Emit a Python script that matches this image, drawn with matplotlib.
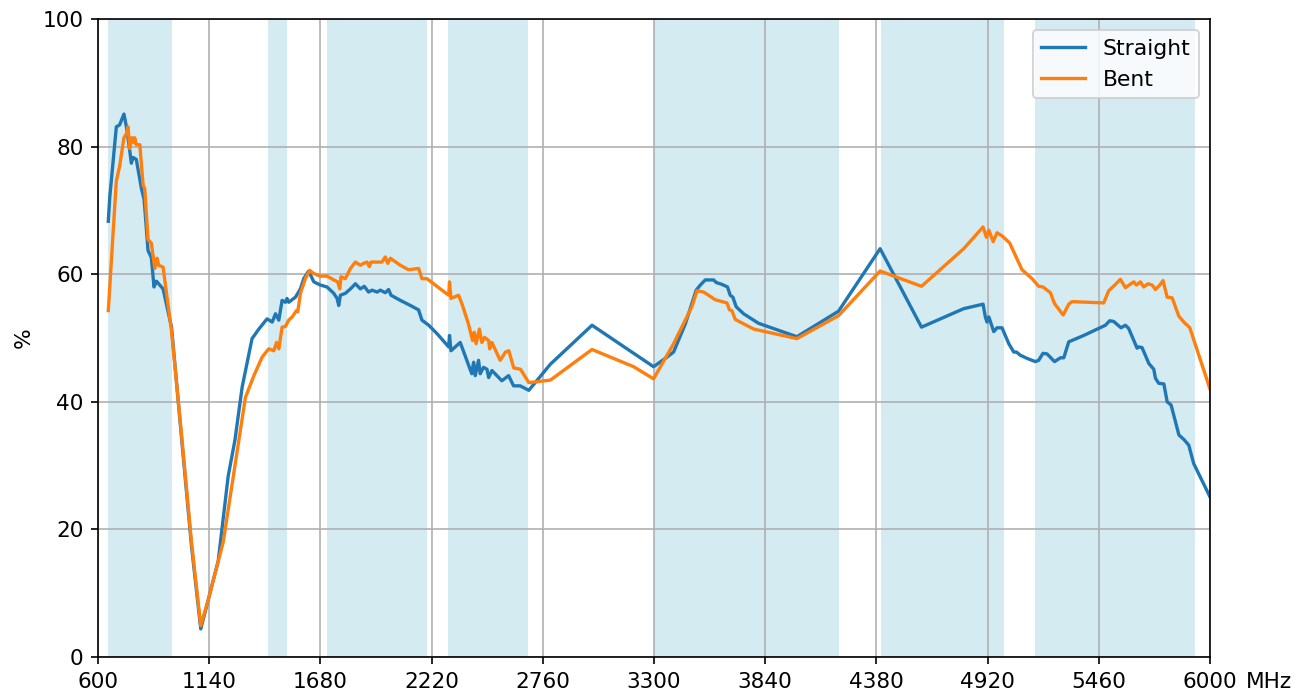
import matplotlib
matplotlib.use("Agg")
import matplotlib.pyplot as plt

# ---- data ----
bands = [(650, 960), (1427, 1518), (1710, 2200), (2300, 2690),
         (3300, 4200), (4400, 5000), (5150, 5925)]

straight_x = [650, 657, 689, 705, 726, 738, 754, 762, 770, 786, 811, 824, 843, 859, 872, 884, 916,
              957, 1005, 1054, 1099, 1135, 1184, 1232, 1265, 1300, 1348, 1381, 1421, 1446, 1462,
              1478, 1494, 1510, 1518, 1526, 1559, 1583, 1599, 1623, 1648, 1680, 1712, 1745, 1761,
              1769, 1777, 1801, 1826, 1850, 1874, 1893, 1914, 1931, 1955, 1971, 1995, 2011, 2023,
              2068, 2117, 2157, 2173, 2206, 2246, 2303, 2307, 2314, 2359, 2391, 2415, 2424, 2432,
              2448, 2456, 2472, 2489, 2497, 2513, 2561, 2594, 2618, 2650, 2692, 2797, 2999, 3298,
              3363, 3395, 3452, 3505, 3525, 3549, 3590, 3602, 3630, 3657, 3670, 3683, 3699, 3735,
              3808, 3994, 4196, 4398, 4599, 4804, 4898, 4909, 4917, 4926, 4950, 4966, 4990, 5023,
              5047, 5060, 5079, 5112, 5152, 5168, 5189, 5209, 5245, 5274, 5290, 5314, 5387, 5492,
              5513, 5532, 5557, 5568, 5589, 5605, 5646, 5654, 5670, 5703, 5727, 5735, 5751, 5776,
              5792, 5811, 5849, 5873, 5897, 5921, 6000]
straight_y = [68.3, 72, 83.1, 83.4, 85.1, 83.1, 79.4, 77.4, 78.3, 78, 73.4, 71.7, 63.7, 62.6, 58, 58.9,
              57.7, 51.7, 34.6, 17.4, 4.4, 8.9, 15.1, 28.3, 34, 42.3, 49.9, 51.4, 53, 52.5, 53.8,
              52.8, 55.9, 55.6, 56.2, 55.6, 56.4, 57.7, 59.3, 60.5, 58.8, 58.3, 58, 57, 56.2,
              55.1, 56.7, 57, 57.7, 58.5, 57.7, 58.1, 57.2, 57.5, 57.2, 57.5, 57.1, 57.6, 56.7,
              55.9, 55.1, 54.4, 52.8, 52, 50.7, 48.6, 50.4, 48, 49.3, 46.5, 44.4, 46.2, 44.1,
              46.5, 44.4, 45.4, 45.1, 43.8, 44.9, 43.3, 44.1, 42.5, 42.5, 41.8, 45.9, 52, 45.5,
              47, 47.8, 52.2, 57.5, 58.3, 59.1, 59.1, 58.7, 58.4, 58, 56.7, 56.4, 54.9, 53.8,
              52.3, 50.2, 54.2, 64, 51.7, 54.6, 55.3, 53.3, 52.5, 53.3, 51, 51.6, 51.6, 49.1,
              47.8, 47.8, 47.3, 46.8, 46.3, 46.5, 47.6, 47.5, 46.3, 46.9, 46.9, 49.4, 50.4, 52,
              52.7, 52.6, 51.9, 51.6, 52, 51.5, 48.4, 48.6, 48.5, 46, 45.1, 43.7, 42.9, 42.8,
              40, 39.5, 34.8, 34.1, 33.2, 30.3, 25.1]

bent_x = [650, 689, 705, 726, 738, 746, 754, 765, 775, 778, 786, 803, 819, 827, 843, 859, 876, 887,
          895, 916, 957, 1005, 1054, 1099, 1135, 1176, 1208, 1249, 1276, 1316, 1357, 1397, 1429,
          1454, 1467, 1478, 1494, 1510, 1526, 1543, 1564, 1570, 1583, 1607, 1628, 1648, 1680,
          1712, 1745, 1764, 1774, 1780, 1801, 1826, 1850, 1874, 1890, 1906, 1918, 1926, 1955,
          1979, 1995, 2007, 2020, 2068, 2108, 2157, 2173, 2197, 2230, 2262, 2303, 2307, 2314,
          2351, 2367, 2399, 2419, 2427, 2436, 2452, 2464, 2477, 2497, 2502, 2513, 2553, 2579,
          2595, 2619, 2652, 2692, 2797, 2999, 3201, 3298, 3395, 3484, 3509, 3541, 3565, 3597,
          3654, 3667, 3678, 3695, 3784, 3994, 4196, 4398, 4599, 4804, 4898, 4914, 4926, 4947,
          4966, 4990, 5027, 5047, 5087, 5136, 5168, 5189, 5225, 5245, 5287, 5314, 5330, 5484,
          5508, 5541, 5565, 5589, 5630, 5643, 5662, 5678, 5699, 5719, 5735, 5756, 5772, 5792,
          5816, 5849, 5873, 5902, 6000]
bent_y = [54.3, 74.6, 76.9, 81.4, 82, 83.1, 79.7, 81.4, 80.6, 81.4, 80.3, 80.3, 74, 73.4, 65.4, 64.9,
          60.9, 62.5, 61.4, 61.1, 51.1, 35.1, 18, 4.9, 8.9, 14, 18, 26.6, 32.3, 40.7, 44.1, 47,
          48.3, 48, 49.3, 48.3, 51.7, 51.8, 52.8, 53.3, 54.3, 54.1, 57, 59.3, 60.6, 60.1, 59.7,
          59.7, 59.1, 58.8, 57.7, 59.6, 59.3, 60.9, 61.9, 61.4, 61.7, 61.9, 61.2, 61.9, 61.9,
          61.9, 62.7, 61.7, 62.5, 61.4, 60.7, 60.9, 59.3, 59.3, 58.5, 57.7, 56.7, 58.8, 56.2,
          56.7, 55.4, 52.2, 49.6, 50.9, 49.1, 51.4, 49.3, 50.1, 49.6, 48.3, 49.3, 46.5, 47.8,
          48, 45.3, 45.1, 43, 43.4, 48.2, 45.5, 43.6, 49.1, 54.9, 57.4, 57.2, 56.7, 56,
          55.5, 54.4, 54.3, 52.9, 51.4, 49.9, 53.5, 60.5, 58.1, 64, 67.4, 65.8, 66.9, 65.1,
          66.5, 66, 64.9, 63.5, 60.7, 59.3, 58.1, 58, 57.1, 55.4, 53.6, 55.3, 55.7, 55.5,
          57.4, 58.4, 59.2, 57.9, 58.8, 58.3, 58.8, 58, 58.5, 58.3, 57.6, 58.3, 59, 56.4,
          56.3, 53.4, 52.5, 51.6, 42]

xticks = [600, 1140, 1680, 2220, 2760, 3300, 3840, 4380, 4920, 5460, 6000]
xtick_labels = [str(t) for t in xticks]
yticks = [0, 20, 40, 60, 80, 100]

# ---- plot ----
plt.rcParams["font.size"] = 10.4
fig = plt.figure(figsize=(1303 / 150, 695 / 150), dpi=150)
ax = fig.add_axes([98 / 1303, 38 / 695, 1112 / 1303, 638 / 695])

for lo, hi in bands:
    ax.axvspan(lo, hi, color="lightblue", alpha=0.5, lw=0)

ax.plot(straight_x, straight_y, color="#1f77b4", lw=1.6, label="Straight")
ax.plot(bent_x, bent_y, color="#ff7f0e", lw=1.6, label="Bent")

ax.set_xlim(600, 6000)
ax.set_ylim(0, 100)
ax.set_xticks(xticks)
ax.set_xticklabels(xtick_labels)
ax.set_yticks(yticks)
ax.grid(True, color="#b0b0b0", lw=0.8)
ax.set_ylabel("%")
ax.annotate("MHz", xy=(1, 0), xycoords="axes fraction", xytext=(17, -7),
            textcoords="offset points", ha="left", va="top")
ax.legend(loc="upper right", fontsize=10.5)

fig.savefig("out.png", dpi=150)
